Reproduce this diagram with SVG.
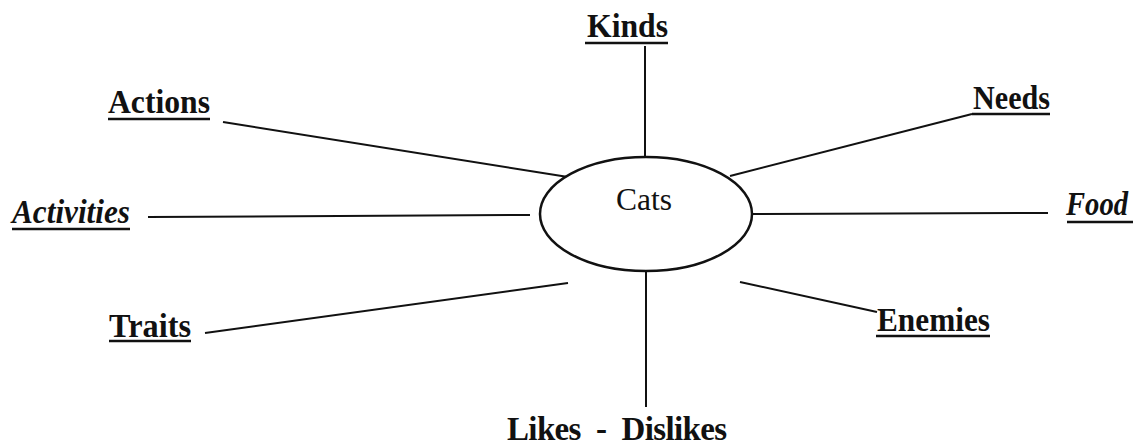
<svg xmlns="http://www.w3.org/2000/svg" width="1137" height="445" viewBox="0 0 1137 445">
<style>
.lbl{font-family:"Liberation Serif","DejaVu Serif",serif;font-size:33px;font-weight:bold;fill:#111}
.it{font-style:italic}
.ul{stroke:#111;stroke-width:2.5}
.c{stroke:#111;stroke-width:2;fill:none}
</style>
<rect width="1137" height="445" fill="#fff"/>
<g id="connectors">
<line class="c" x1="645" y1="46" x2="645" y2="157"/>
<line class="c" x1="223" y1="122" x2="568" y2="177"/>
<line class="c" x1="148" y1="217" x2="530" y2="215"/>
<line class="c" x1="205" y1="333" x2="568" y2="283"/>
<line class="c" x1="730" y1="176" x2="972" y2="114"/>
<line class="c" x1="740" y1="214" x2="1048" y2="213"/>
<line class="c" x1="740" y1="282" x2="877" y2="312"/>
<line class="c" x1="646" y1="272" x2="646" y2="407"/>
</g>
<g id="cats">
<ellipse cx="646" cy="214" rx="106" ry="57" fill="#fff" stroke="#111" stroke-width="2.5"/>
<text x="644" y="210" text-anchor="middle" textLength="56" lengthAdjust="spacingAndGlyphs" style="font-family:'Liberation Serif','DejaVu Serif',serif;font-size:32px;fill:#111">Cats</text>
</g>
<g id="kinds">
<text class="lbl" x="587" y="37" textLength="81" lengthAdjust="spacingAndGlyphs">Kinds</text>
<line class="ul" x1="585" y1="43" x2="668" y2="43"/>
</g>
<g id="actions">
<text class="lbl" x="108" y="113" textLength="102" lengthAdjust="spacingAndGlyphs">Actions</text>
<line class="ul" x1="108" y1="119" x2="210" y2="119"/>
</g>
<g id="activities">
<text class="lbl it" x="12" y="223" textLength="118" lengthAdjust="spacingAndGlyphs">Activities</text>
<line class="ul" x1="12" y1="229" x2="130" y2="229"/>
</g>
<g id="traits">
<text class="lbl" x="109" y="337" textLength="82" lengthAdjust="spacingAndGlyphs">Traits</text>
<line class="ul" x1="109" y1="341" x2="191" y2="341"/>
</g>
<g id="needs">
<text class="lbl" x="973" y="109" textLength="77" lengthAdjust="spacingAndGlyphs">Needs</text>
<line class="ul" x1="972" y1="114" x2="1050" y2="114"/>
</g>
<g id="food">
<text class="lbl it" x="1066" y="215" textLength="62" lengthAdjust="spacingAndGlyphs">Food</text>
<line class="ul" x1="1067" y1="222" x2="1133" y2="222"/>
</g>
<g id="enemies">
<text class="lbl" x="877" y="331" textLength="113" lengthAdjust="spacingAndGlyphs">Enemies</text>
<line class="ul" x1="876" y1="336" x2="990" y2="336"/>
</g>
<g id="likes">
<text class="lbl" x="507" y="440" textLength="220" lengthAdjust="spacing" xml:space="preserve">Likes  -  Dislikes</text>
</g>
</svg>
